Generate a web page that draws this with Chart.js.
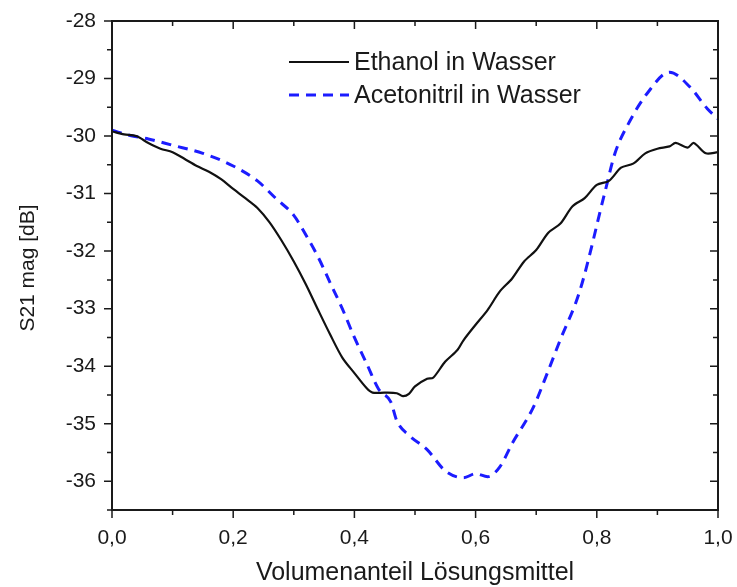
<!DOCTYPE html>
<html lang="de">
<head>
    <meta charset="UTF-8">
    <title>S21 mag</title>
    <script src="https://cdn.jsdelivr.net/npm/chart.js"></script>
    <style>
        html, body { margin: 0; padding: 0; background: #fff; }
        #wrap { width: 737px; height: 587px; }
    </style>
</head>
<body>
    <div id="wrap">
        <canvas id="myChart" width="737" height="587"></canvas>
    </div>

    <script>
        // volume fraction / S21 magnitude in dB
        const ethanol_x = [0.00, 0.02, 0.04, 0.06, 0.08, 0.10, 0.12, 0.14, 0.16, 0.18, 0.20, 0.22, 0.24, 0.26,
            0.28, 0.30, 0.32, 0.34, 0.36, 0.38, 0.40, 0.42, 0.43, 0.45, 0.47, 0.48, 0.49, 0.50, 0.52, 0.53,
            0.55, 0.57, 0.58, 0.60, 0.62, 0.64, 0.66, 0.68, 0.70, 0.72, 0.74, 0.76, 0.78, 0.80, 0.82, 0.84,
            0.86, 0.88, 0.90, 0.92, 0.93, 0.95, 0.96, 0.98, 1.00];
        const ethanol_y = [-29.92, -29.97, -30.00, -30.12, -30.22, -30.28, -30.40, -30.52, -30.62, -30.75, -30.92, -31.08, -31.25, -31.50,
            -31.82, -32.18, -32.58, -33.02, -33.45, -33.85, -34.12, -34.38, -34.46, -34.46, -34.47, -34.52, -34.48, -34.35, -34.22, -34.20,
            -33.92, -33.72, -33.55, -33.28, -33.02, -32.70, -32.48, -32.18, -31.98, -31.68, -31.52, -31.22, -31.08, -30.85, -30.78, -30.55,
            -30.48, -30.30, -30.22, -30.18, -30.12, -30.20, -30.12, -30.30, -30.28];

        const aceto_x = [0.00, 0.03, 0.06, 0.10, 0.15, 0.20, 0.24, 0.27, 0.30, 0.32, 0.34, 0.36, 0.38, 0.40, 0.42,
            0.44, 0.46, 0.47, 0.49, 0.52, 0.55, 0.58, 0.60, 0.62, 0.64, 0.66, 0.695, 0.718, 0.739, 0.772,
            0.814, 0.83, 0.855, 0.883, 0.92, 0.954, 0.982, 1.00];
        const aceto_y = [-29.90, -29.99, -30.05, -30.16, -30.30, -30.52, -30.78, -31.08, -31.38, -31.72, -32.10, -32.55, -33.00, -33.50, -33.95,
            -34.40, -34.62, -34.95, -35.20, -35.45, -35.82, -35.94, -35.87, -35.92, -35.75, -35.35, -34.72, -34.13, -33.56, -32.69,
            -30.95, -30.30, -29.73, -29.26, -28.89, -29.15, -29.52, -29.70];

        const series_labels = ['Ethanol in Wasser', 'Acetonitril in Wasser'];
        const y_ticks = [-36, -35, -34, -33, -32, -31, -30, -29, -28];
        const x_title = 'Volumenanteil Lösungsmittel';
        const y_title = 'S21 mag [dB]';

        const FONT = '"Liberation Sans", Arial, sans-serif';
        const INK = '#1a1a1a';

        function pairs(xs, ys) {
            return xs.map((x, i) => ({ x: x, y: ys[i] }));
        }

        // frame, in/out ticks, axis titles and legend
        const framePlugin = {
            id: 'frame',
            afterDraw(chart) {
                const ctx = chart.ctx;
                const a = chart.chartArea;
                const xs = chart.scales.x, ys = chart.scales.y;
                ctx.save();
                ctx.strokeStyle = INK;
                ctx.lineWidth = 2;
                ctx.strokeRect(a.left, a.top, a.right - a.left, a.bottom - a.top);

                ctx.lineWidth = 1.5;
                ctx.beginPath();
                for (let i = 0; i <= 10; i++) {
                    const px = xs.getPixelForValue(i / 10);
                    const len = i % 2 === 0 ? 8 : 5;
                    ctx.moveTo(px, a.bottom); ctx.lineTo(px, a.bottom + len);
                    ctx.moveTo(px, a.top); ctx.lineTo(px, a.top + len);
                }
                for (let i = 0; i <= 17; i++) {
                    const v = -36.5 + i * 0.5;
                    const py = ys.getPixelForValue(v);
                    const len = (v % 1 === 0) ? 8 : 5;
                    ctx.moveTo(a.left, py); ctx.lineTo(a.left - len, py);
                    ctx.moveTo(a.right, py); ctx.lineTo(a.right - len, py);
                }
                ctx.stroke();

                // axis titles
                ctx.fillStyle = INK;
                ctx.textAlign = 'center';
                ctx.textBaseline = 'middle';
                ctx.font = '25px ' + FONT;
                ctx.fillText(x_title, (a.left + a.right) / 2, 573);
                ctx.save();
                ctx.translate(28, 268);
                ctx.rotate(-Math.PI / 2);
                ctx.font = '21px ' + FONT;
                ctx.fillText(y_title, 0, 0);
                ctx.restore();

                // legend
                ctx.font = '25px ' + FONT;
                ctx.textAlign = 'left';
                chart.data.datasets.forEach((ds, i) => {
                    const ly = 62 + i * 33;
                    ctx.strokeStyle = ds.borderColor;
                    ctx.lineWidth = ds.borderWidth;
                    ctx.setLineDash(ds.borderDash || []);
                    ctx.beginPath();
                    ctx.moveTo(289, ly); ctx.lineTo(349, ly);
                    ctx.stroke();
                    ctx.setLineDash([]);
                    ctx.fillText(ds.label, 354, ly + 1);
                });
                ctx.restore();
            }
        };

        const ctx = document.getElementById('myChart').getContext('2d');
        new Chart(ctx, {
            type: 'line',
            data: {
                datasets: [
                    {
                        label: series_labels[0],
                        data: pairs(ethanol_x, ethanol_y),
                        borderColor: '#111111',
                        borderWidth: 2.2,
                        pointRadius: 0,
                        tension: 0.3
                    },
                    {
                        label: series_labels[1],
                        data: pairs(aceto_x, aceto_y),
                        borderColor: '#1c1cff',
                        borderWidth: 3,
                        borderDash: [10, 7],
                        pointRadius: 0,
                        cubicInterpolationMode: 'monotone'
                    }
                ]
            },
            options: {
                responsive: false,
                animation: false,
                layout: { padding: { left: 0, right: 19, top: 21, bottom: 0 } },
                plugins: { legend: { display: false }, tooltip: { enabled: false } },
                scales: {
                    x: {
                        type: 'linear',
                        min: 0, max: 1,
                        afterFit(s) { s.height = 77; s.paddingLeft = 0; s.paddingRight = 0; },
                        grid: { display: false, drawTicks: false },
                        border: { display: false },
                        ticks: {
                            stepSize: 0.2,
                            padding: 16,
                            color: INK,
                            font: { family: FONT, size: 21 },
                            callback: v => v.toFixed(1).replace('.', ',')
                        }
                    },
                    y: {
                        type: 'linear',
                        min: -36.5, max: -28,
                        afterFit(s) { s.width = 112; s.paddingTop = 0; s.paddingBottom = 0; },
                        afterBuildTicks(s) {
                            s.ticks = y_ticks.map(v => ({ value: v }));
                        },
                        grid: { display: false, drawTicks: false },
                        border: { display: false },
                        ticks: {
                            padding: 16,
                            color: INK,
                            font: { family: FONT, size: 21 },
                            callback: v => String(v)
                        }
                    }
                }
            },
            plugins: [framePlugin]
        });
    </script>
</body>
</html>
